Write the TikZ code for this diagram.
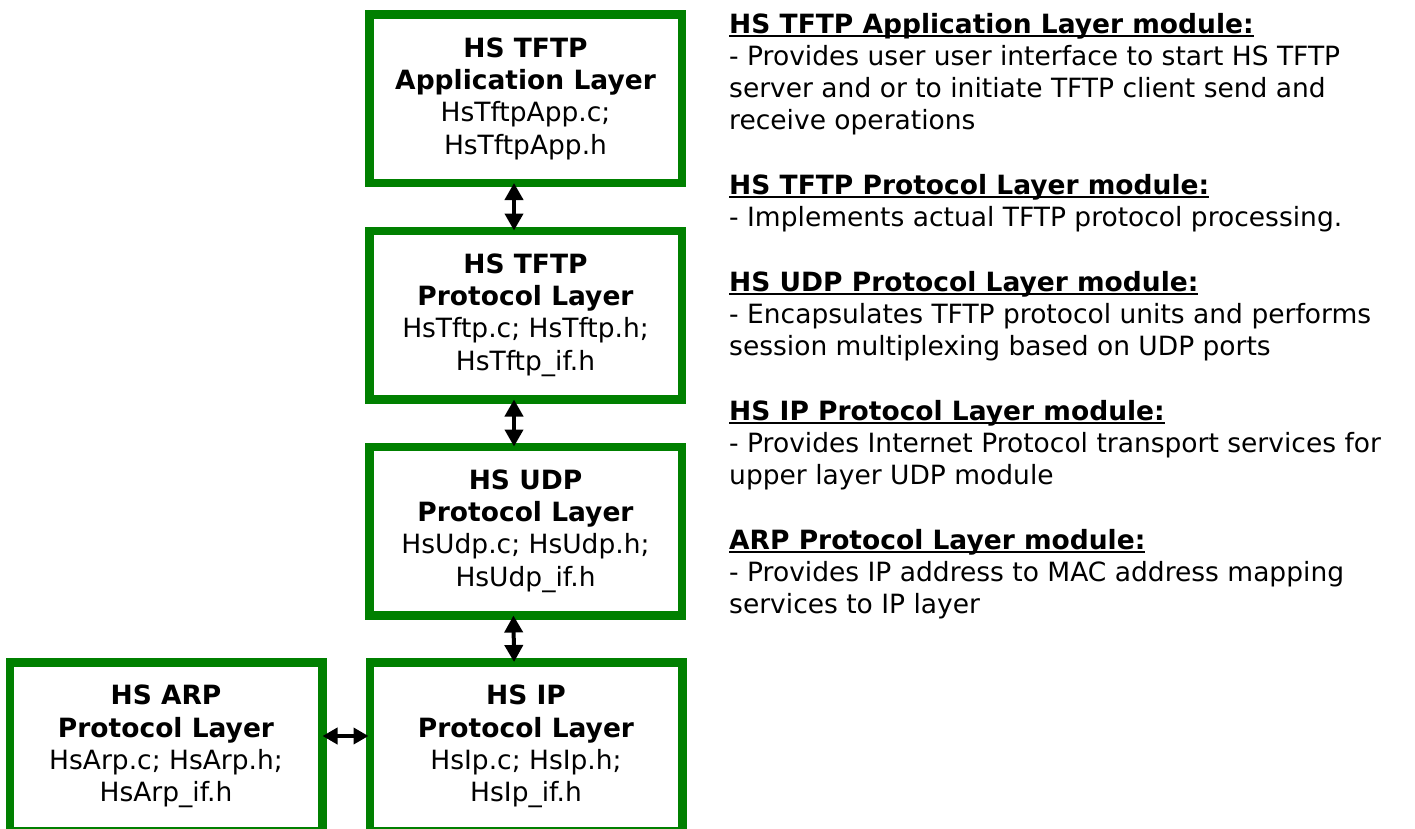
\documentclass[tikz,border=0pt]{standalone}
\usepackage{fontspec}
\setmainfont{DejaVu Sans}
\usetikzlibrary{arrows.meta}
\definecolor{bgreen}{RGB}{0,128,0}
\newlength\ulwd
\newcommand\ulhead[1]{\settowidth\ulwd{\bfseries #1}\rlap{\rule[-3.5pt]{\ulwd}{2pt}}{\bfseries #1}}
\begin{document}
\begin{tikzpicture}[x=1pt,y=-1pt,
  layerbox/.style={draw=bgreen, line width=8.5pt, fill=white,
    minimum width=312.5pt, minimum height=168.5pt, inner sep=0pt,
    align=center, font=\fontsize{26.5}{32.3}\selectfont},
  vbiarrow/.style={{Triangle[length=17pt,width=18pt]}-{Triangle[length=17pt,width=18pt]}, line width=4pt, shorten <=-4pt, shorten >=-4pt},
  hbiarrow/.style={{Triangle[length=15pt,width=16pt]}-{Triangle[length=15pt,width=16pt]}, line width=4pt, shorten <=-4pt, shorten >=-3pt},
  desc/.style={anchor=base west, inner sep=0pt, font=\fontsize{26.5}{32.3}\selectfont}]
\useasboundingbox (0,0) rectangle (1415,828);
\clip (0,0) rectangle (1415,828);

\node[layerbox] (app)  at (525.5,98.5) {\textbf{HS TFTP}\\\textbf{Application Layer}\\HsTftpApp.c;\\HsTftpApp.h};
\node[layerbox] (tftp) at (525.5,315)  {\textbf{HS TFTP}\\\textbf{Protocol Layer}\\HsTftp.c; HsTftp.h;\\HsTftp\_if.h};
\node[layerbox] (udp)  at (525.5,531)  {\textbf{HS UDP}\\\textbf{Protocol Layer}\\HsUdp.c; HsUdp.h;\\HsUdp\_if.h};
\node[layerbox] (ip)   at (526,746.5)  {\textbf{HS IP}\\\textbf{Protocol Layer}\\HsIp.c; HsIp.h;\\HsIp\_if.h};
\node[layerbox] (arp)  at (166,746.5)  {\textbf{HS ARP}\\\textbf{Protocol Layer}\\HsArp.c; HsArp.h;\\HsArp\_if.h};

\draw[vbiarrow] ([xshift=-11.5pt]app.south) -- ([xshift=-11.5pt]tftp.north);
\draw[vbiarrow] ([xshift=-11.5pt]tftp.south) -- ([xshift=-11.5pt]udp.north);
\draw[vbiarrow] ([xshift=-12pt]udp.south) -- ([xshift=-12pt]ip.north);
\draw[hbiarrow] ([yshift=10.5pt]arp.east) -- ([yshift=10.5pt]ip.west);

\node[desc] (h1)  at (729,33)     {\ulhead{HS TFTP Application Layer module:}};
\node[desc] (t1a) at (729,65.25)  {- Provides user user interface to start HS TFTP};
\node[desc] (t1b) at (729,97.5)   {server and or to initiate TFTP client send and};
\node[desc] (t1c) at (729,129.75) {receive operations};
\node[desc] (h2)  at (729,194.25) {\ulhead{HS TFTP Protocol Layer module:}};
\node[desc] (t2a) at (729,226.5)  {- Implements actual TFTP protocol processing.};
\node[desc] (h3)  at (729,291)    {\ulhead{HS UDP Protocol Layer module:}};
\node[desc] (t3a) at (729,323.25) {- Encapsulates TFTP protocol units and performs};
\node[desc] (t3b) at (729,355.5)  {session multiplexing based on UDP ports};
\node[desc] (h4)  at (729,420)    {\ulhead{HS IP Protocol Layer module:}};
\node[desc] (t4a) at (729,452.25) {- Provides Internet Protocol transport services for};
\node[desc] (t4b) at (729,484.5)  {upper layer UDP module};
\node[desc] (h5)  at (729,549)    {\ulhead{ARP Protocol Layer module:}};
\node[desc] (t5a) at (729,581.25) {- Provides IP address to MAC address mapping};
\node[desc] (t5b) at (729,613.5)  {services to IP layer};
\end{tikzpicture}
\end{document}
